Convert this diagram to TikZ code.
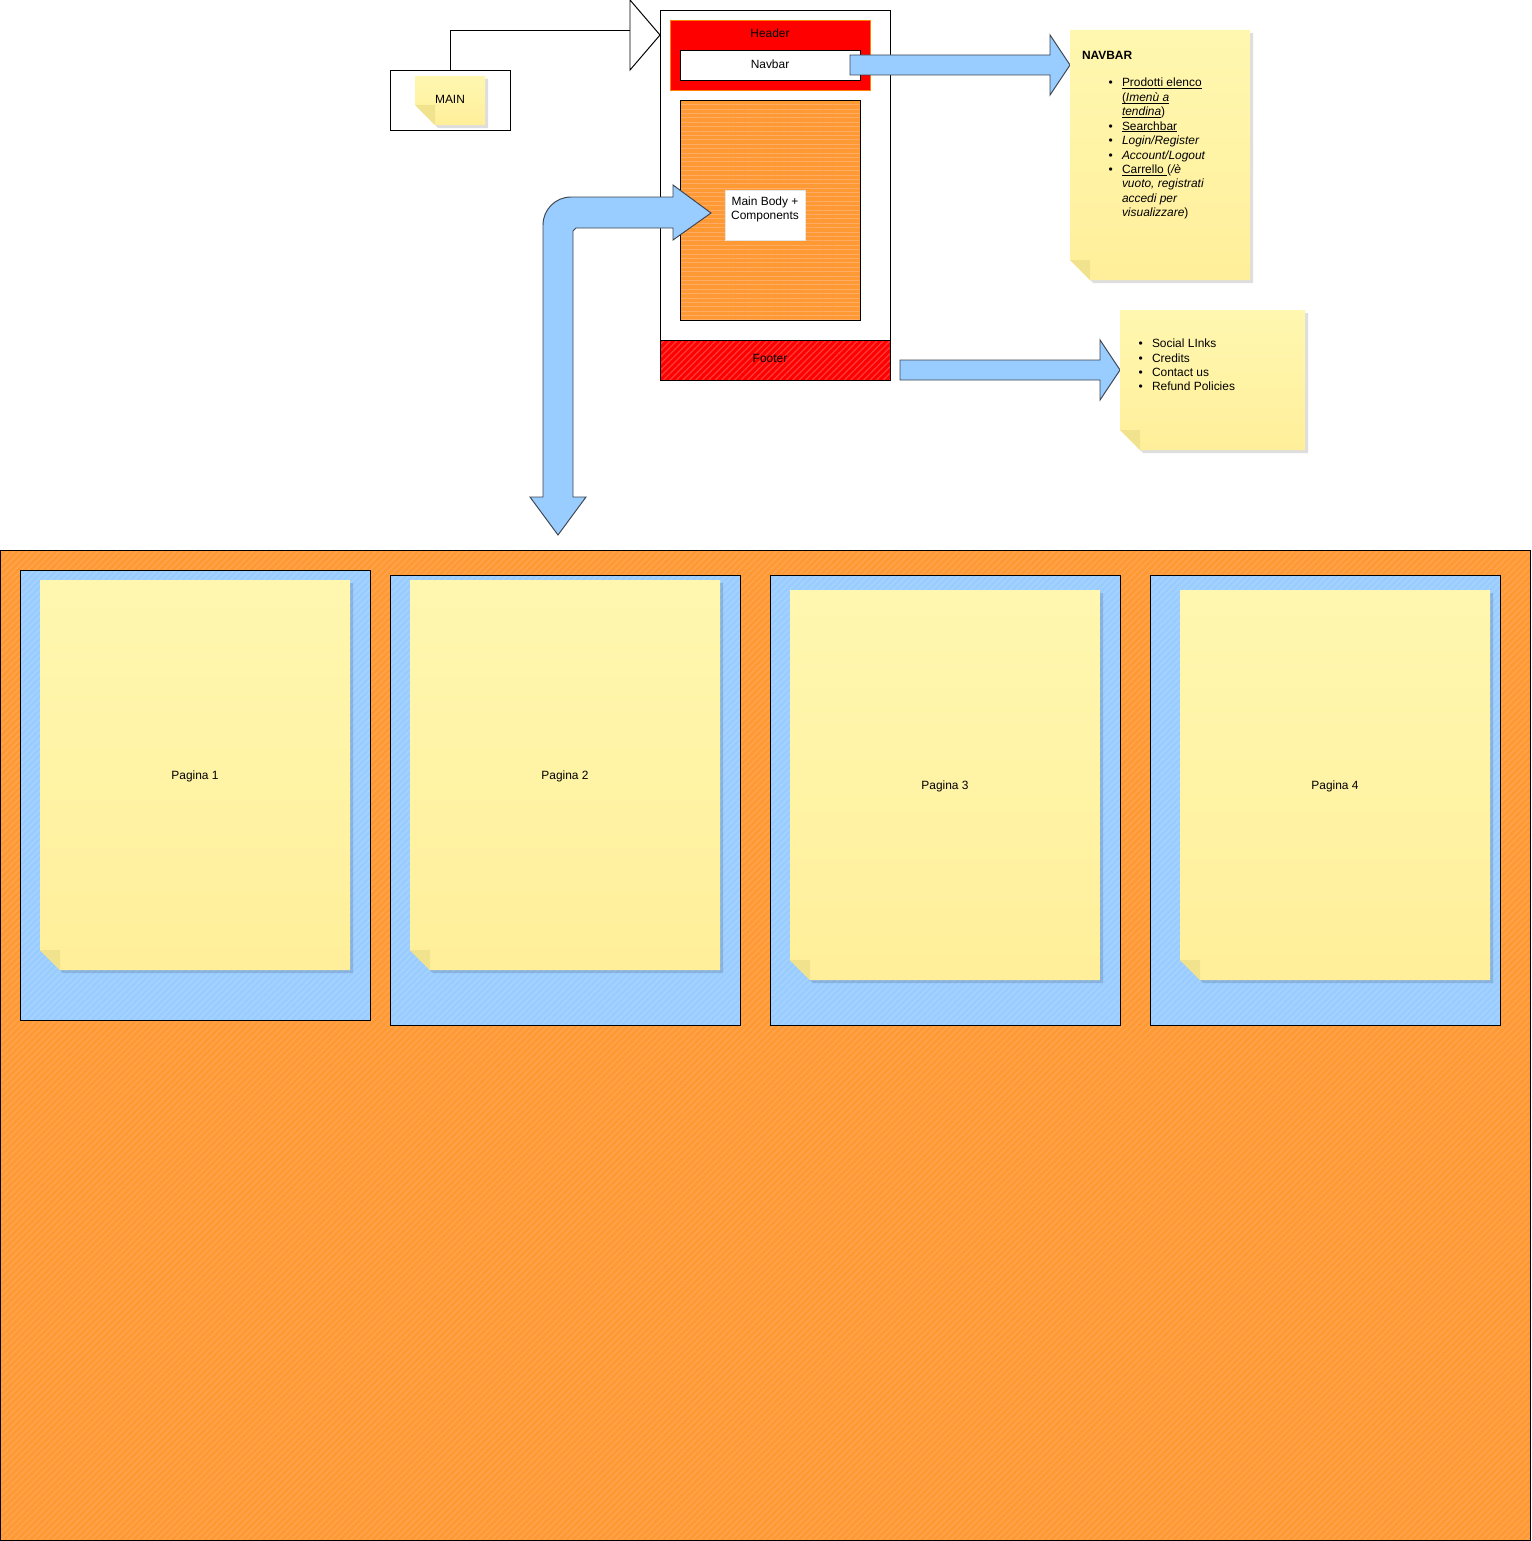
\documentclass[tikz,border=0pt]{standalone}
\usepackage{fontspec}
\setmainfont{Liberation Sans}
\usetikzlibrary{patterns.meta,calc}
\definecolor{orangeF}{HTML}{FF9933}
\definecolor{orangeL}{HTML}{FFA54F}
\definecolor{orangeS}{HTML}{FFAD66}
\definecolor{blueF}{HTML}{99CCFF}
\definecolor{blueL}{HTML}{A8D3FF}
\definecolor{redF}{HTML}{FF0000}
\definecolor{redL}{HTML}{FF3B3B}
\definecolor{headerB}{HTML}{FF8000}
\definecolor{noteT}{HTML}{FFF7B0}
\definecolor{noteB}{HTML}{FFEF9A}
\definecolor{foldC}{HTML}{F1E38E}
\definecolor{arrowS}{HTML}{3E4650}
\def\U{0.02cm}
\newcommand\mybox[6]{\node[#6,anchor=north west,minimum width={(#3-#1)*\U},minimum height={(#4-#2)*\U}] (#5) at (#1,#2) {};}
\newcommand\sticky[5]{%
  \fill[black,opacity=0.13] ({#1+3},{#2+3}) -- ({#3+3},{#2+3}) -- ({#3+3},{#4+3}) -- ({#1+23},{#4+3}) -- ({#1+3},{#4-17}) -- cycle;
  \shade[top color=noteT,bottom color=noteB] (#1,#2) -- (#3,#2) -- (#3,#4) -- ({#1+20},#4) -- (#1,{#4-20}) -- cycle;
  \fill[foldC] (#1,{#4-20}) -- ({#1+20},{#4-20}) -- ({#1+20},#4) -- cycle;
  \node[minimum width={(#3-#1)*\U},minimum height={(#4-#2)*\U}] (#5) at ({(#1+#3)/2},{(#2+#4)/2}) {};}
\newcommand\myul[1]{\setbox0\hbox{#1}\rlap{\rule[-1.1pt]{\wd0}{0.4pt}}\box0}
\newcommand\bl{\llap{\textbullet\hspace{5.2pt}}}
\begin{document}
\begin{tikzpicture}[x=0.02cm,y=-0.02cm,
  every node/.style={inner sep=0pt,outer sep=0pt,font=\fontsize{6.8pt}{8.2pt}\selectfont},
  frame/.style={draw=black,line width=0.55pt},
  hatchO/.style={preaction={fill=orangeF},preaction={pattern={Lines[angle=45,distance=2.6pt,line width=0.8pt]},pattern color=orangeL}},
  hatchB/.style={preaction={fill=blueF},preaction={pattern={Lines[angle=45,distance=2.6pt,line width=0.8pt]},pattern color=blueL}},
  hatchR/.style={preaction={fill=redF},preaction={pattern={Lines[angle=45,distance=2.6pt,line width=0.7pt]},pattern color=redL}},
  stripeO/.style={preaction={fill=orangeF},preaction={pattern={Lines[angle=0,distance=2.5pt,line width=0.5pt]},pattern color=orangeS}},
  barrow/.style={fill=blueF,draw=arrowS,line width=0.55pt,line join=miter}]
\useasboundingbox (0,0) rectangle (1531,1541);

% pages area
\mybox{0}{550}{1530}{1540}{pages}{frame,hatchO}
\mybox{20}{570}{370}{1020}{p1}{frame,hatchB}
\mybox{390}{575}{740}{1025}{p2}{frame,hatchB}
\mybox{770}{575}{1120}{1025}{p3}{frame,hatchB}
\mybox{1150}{575}{1500}{1025}{p4}{frame,hatchB}
\sticky{40}{580}{350}{970}{n1}
\sticky{410}{580}{720}{970}{n2}
\sticky{790}{590}{1100}{980}{n3}
\sticky{1180}{590}{1490}{980}{n4}
\node[anchor=base] (t1) at ($(n1.center)+(0,4)$) {Pagina 1};
\node[anchor=base] (t2) at ($(n2.center)+(0,4)$) {Pagina 2};
\node[anchor=base] (t3) at ($(n3.center)+(0,4)$) {Pagina 3};
\node[anchor=base] (t4) at ($(n4.center)+(0,4)$) {Pagina 4};

% layout container
\mybox{660}{10}{890}{380}{container}{frame,fill=white}
\mybox{670}{20}{870}{90}{header}{draw=headerB,line width=0.55pt,fill=redF}
\node[anchor=base] (headert) at (770,37.5) {Header};
\mybox{680}{50}{860}{80}{navbar}{frame,fill=white}
\node[anchor=base] (navbart) at (770,69) {Navbar};
\mybox{680}{100}{860}{320}{mainbody}{frame,stripeO}
\mybox{660}{340}{890}{380}{footer}{frame,hatchR}
\node[anchor=base] (footert) at (770,362) {Footer};

% bent arrow into main body and down to pages
\draw[barrow] (558,535) -- (586,497) -- (573,497) -- (573,231) -- (576,228) -- (673,228) -- (673,240) -- (711,213) -- (673,185) -- (673,197) -- (571,197)
  .. controls (555.5,197) and (543,209.5) .. (543,225) -- (543,497) -- (530,497) -- cycle;

\mybox{725}{190}{805}{240}{mbc}{fill=white,draw=white!90!black,line width=0.3pt}
\node[anchor=base,align=center] (mbct1) at (765,205) {Main Body +};
\node[anchor=base,align=center] (mbct2) at (765,219) {Components};

% MAIN
\mybox{390}{70}{510}{130}{mainbox}{frame,fill=white}
\sticky{415}{76}{485}{125}{mainnote}
\node[anchor=base] (maint) at (450,104) {MAIN};
\coordinate (tri) at (630,30);
\draw[line width=0.55pt] (mainbox.north) |- (tri);
\draw[line width=0.55pt,fill=white,line join=miter] (630,0) -- (660,35) -- (630,70) -- cycle;

% navbar arrow + note
\draw[barrow] (850,55) -- (1050,55) -- (1050,35) -- (1070,65) -- (1050,95) -- (1050,75) -- (850,75) -- cycle;
\sticky{1070}{30}{1250}{280}{navnote}
\node[anchor=base west,font=\fontsize{6.8pt}{8.2pt}\selectfont\bfseries] (nvh) at (1082,60) {NAVBAR};
\node[anchor=base west] (nv1) at (1122,87) {\bl\myul{Prodotti elenco}};
\node[anchor=base west] (nv2) at (1122,101.4) {\myul{(\textit{Imenù a}}};
\node[anchor=base west] (nv3) at (1122,115.8) {\myul{\textit{tendina}})};
\node[anchor=base west] (nv4) at (1122,130.2) {\bl\myul{Searchbar}};
\node[anchor=base west] (nv5) at (1122,144.6) {\bl\textit{Login/Register}};
\node[anchor=base west] (nv6) at (1122,159) {\bl\textit{Account/Logout}};
\node[anchor=base west] (nv7) at (1122,173.4) {\bl\myul{Carrello }(\textit{/è}};
\node[anchor=base west] (nv8) at (1122,187.8) {\textit{vuoto, registrati}};
\node[anchor=base west] (nv9) at (1122,202.2) {\textit{accedi per}};
\node[anchor=base west] (nv10) at (1122,216.6) {\textit{visualizzare})};

% footer arrow + note
\draw[barrow] (900,360) -- (1100,360) -- (1100,340) -- (1120,370) -- (1100,400) -- (1100,380) -- (900,380) -- cycle;
\sticky{1120}{310}{1305}{450}{footnote}
\node[anchor=base west] (ft1) at (1152,347.7) {\bl Social LInks};
\node[anchor=base west] (ft2) at (1152,362.1) {\bl Credits};
\node[anchor=base west] (ft3) at (1152,376.5) {\bl Contact us};
\node[anchor=base west] (ft4) at (1152,390.9) {\bl Refund Policies};
\end{tikzpicture}
\end{document}
